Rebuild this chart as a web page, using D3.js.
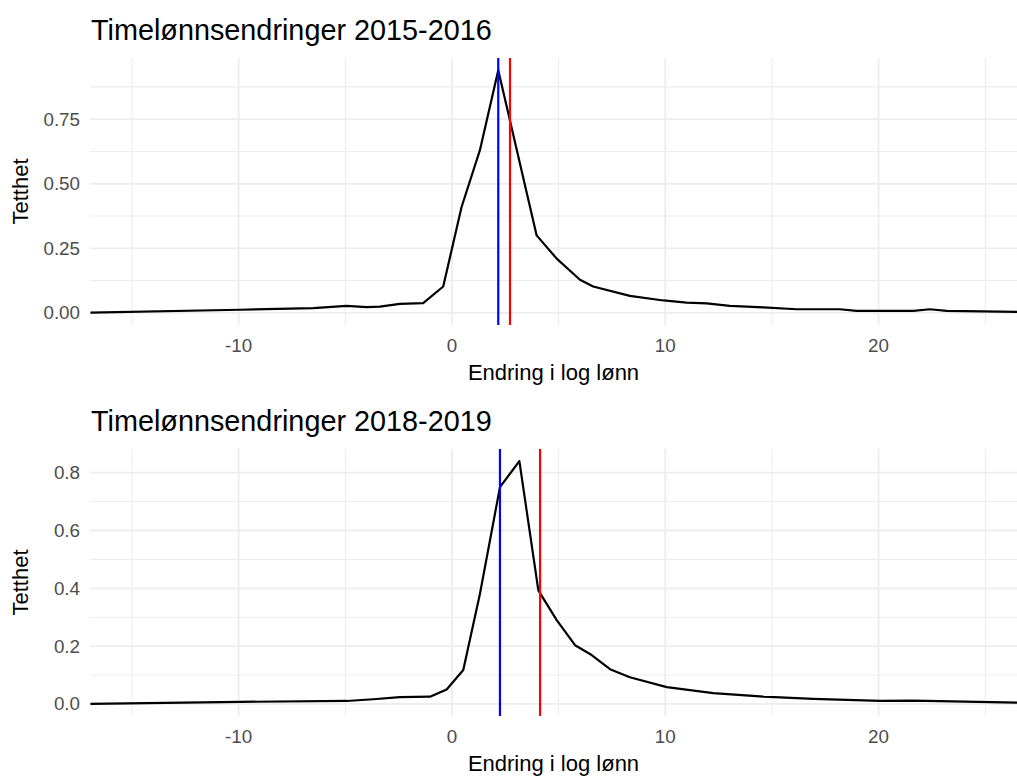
<!DOCTYPE html>
<html>
<head>
<meta charset="utf-8">
<script src="https://cdn.jsdelivr.net/npm/d3@7"></script>
<style>
  body { margin: 0; background: #fff; }
  svg { display: block; font-family: "Liberation Sans", Arial, sans-serif; }
</style>
</head>
<body>
<div id="chart"></div>
<script>
"use strict"

// x axis (shared)
const xDomain = [-16.97, 26.49];
const xTicks = [-10, 0, 10, 20];
const xMinor = [-15, -5, 5, 15, 25];

// 2015-2016
const title2015 = "Timelønnsendringer 2015-2016";
const x2015 = [-16.95, -9.94, -6.5, -4.94, -4.0, -3.38, -2.44, -1.35, -0.41, 0.45, 1.31, 2.17,
               3.97, 4.91, 6.0, 6.62, 8.34, 9.91, 11.0, 11.94, 13.03, 14.6, 16.16, 18.19,
               18.97, 21.63, 22.41, 23.19, 26.49];
const y2015 = [0.001, 0.012, 0.018, 0.027, 0.022, 0.024, 0.035, 0.038, 0.102, 0.41, 0.63, 0.94,
               0.30, 0.21, 0.128, 0.102, 0.066, 0.048, 0.040, 0.037, 0.027, 0.021, 0.014, 0.014,
               0.008, 0.008, 0.014, 0.008, 0.004];
const yTicks2015 = [0, 0.25, 0.5, 0.75];
const yMinor2015 = [0.125, 0.375, 0.625, 0.875];
const median2015 = 2.17;
const mean2015 = 2.72;

// 2018-2019
const title2018 = "Timelønnsendringer 2018-2019";
const x2018 = [-16.95, -9.94, -4.94, -3.69, -2.44, -1.03, -0.25, 0.53, 1.31, 2.25, 3.16, 4.05,
               4.91, 5.77, 6.55, 7.41, 8.34, 10.07, 12.25, 14.6, 16.94, 20.07, 21.63, 26.49];
const y2018 = [0.0, 0.007, 0.01, 0.016, 0.023, 0.025, 0.05, 0.117, 0.38, 0.75, 0.84, 0.393,
               0.29, 0.203, 0.169, 0.12, 0.092, 0.058, 0.037, 0.025, 0.017, 0.010, 0.011, 0.0045];
const yTicks2018 = [0, 0.2, 0.4, 0.6, 0.8];
const yMinor2018 = [0.1, 0.3, 0.5, 0.7];
const median2018 = 2.25;
const mean2018 = 4.13;

const xLabel = "Endring i log lønn";
const yLabel = "Tetthet";

const width = 1017, height = 776;
const svg = (
  d3.select('#chart')
    .append('svg')
    .attr('width', width)
    .attr('height', height));

function drawPanel({top, title, xs, ys, yTicks, yMinor, yFormat, median, mean}) {
  let left = 90, right = 1017, ph = 267;
  let bottom = top + ph;
  let g = svg.append('g');

  let x = d3.scaleLinear().domain(xDomain).range([left, right]);
  let yMax = d3.max(ys);
  let y = d3.scaleLinear().domain([-0.05 * yMax, 1.05 * yMax]).range([bottom, top]);

  // Minor grid
  (g.selectAll('whatever')
      .data(xMinor)
    .enter()
      .append('line')
        .attr('x1', (d) => x(d)).attr('x2', (d) => x(d))
        .attr('y1', top).attr('y2', bottom)
        .attr('stroke', '#ededed').attr('stroke-width', 1.1)
  );
  (g.selectAll('whatever')
      .data(yMinor)
    .enter()
      .append('line')
        .attr('x1', left).attr('x2', right)
        .attr('y1', (d) => y(d)).attr('y2', (d) => y(d))
        .attr('stroke', '#ededed').attr('stroke-width', 1.1)
  );

  // Major grid
  (g.selectAll('whatever')
      .data(xTicks)
    .enter()
      .append('line')
        .attr('x1', (d) => x(d)).attr('x2', (d) => x(d))
        .attr('y1', top).attr('y2', bottom)
        .attr('stroke', '#ededed').attr('stroke-width', 1.8)
  );
  (g.selectAll('whatever')
      .data(yTicks)
    .enter()
      .append('line')
        .attr('x1', left).attr('x2', right)
        .attr('y1', (d) => y(d)).attr('y2', (d) => y(d))
        .attr('stroke', '#ededed').attr('stroke-width', 1.8)
  );

  // Density line
  let line = d3.line().x((d) => x(d[0])).y((d) => y(d[1]));
  (g.append('path')
      .datum(d3.zip(xs, ys))
      .attr('d', line)
      .attr('fill', 'none')
      .attr('stroke', '#000')
      .attr('stroke-width', 2.2)
      .attr('stroke-linejoin', 'round')
  );

  // Median and mean
  (g.selectAll('whatever')
      .data([[median, '#0000ff'], [mean, '#ff0000']])
    .enter()
      .append('line')
        .attr('x1', (d) => x(d[0])).attr('x2', (d) => x(d[0]))
        .attr('y1', top).attr('y2', bottom)
        .attr('stroke', (d) => d[1]).attr('stroke-width', 2.2)
  );

  // Tick labels
  (g.selectAll('whatever')
      .data(xTicks)
    .enter()
      .append('text')
        .attr('style', 'font-size: 18.8px; fill: #4d4d4d')
        .attr('text-anchor', 'middle')
        .attr('x', (d) => x(d))
        .attr('y', bottom + 27)
        .text((d) => d3.format('d')(d).replace('−', '-'))
  );
  (g.selectAll('whatever')
      .data(yTicks)
    .enter()
      .append('text')
        .attr('style', 'font-size: 18.8px; fill: #4d4d4d')
        .attr('text-anchor', 'end')
        .attr('x', 80)
        .attr('y', (d) => y(d) + 6.5)
        .text((d) => d3.format(yFormat)(d))
  );

  // Titles
  (g.append('text')
      .attr('style', 'font-size: 28.8px; fill: #000')
      .attr('x', 91)
      .attr('y', top - 18.5)
      .text(title)
  );
  (g.append('text')
      .attr('style', 'font-size: 22px; fill: #000')
      .attr('text-anchor', 'middle')
      .attr('x', (left + right) / 2)
      .attr('y', bottom + 55)
      .text(xLabel)
  );
  (g.append('text')
      .attr('style', 'font-size: 22px; fill: #000')
      .attr('text-anchor', 'middle')
      .attr('transform', `translate(28,${(top + bottom) / 2}) rotate(-90)`)
      .text(yLabel)
  );
}

drawPanel({top: 58, title: title2015, xs: x2015, ys: y2015,
           yTicks: yTicks2015, yMinor: yMinor2015, yFormat: '.2f',
           median: median2015, mean: mean2015});
drawPanel({top: 449, title: title2018, xs: x2018, ys: y2018,
           yTicks: yTicks2018, yMinor: yMinor2018, yFormat: '.1f',
           median: median2018, mean: mean2018});
</script>
</body>
</html>
